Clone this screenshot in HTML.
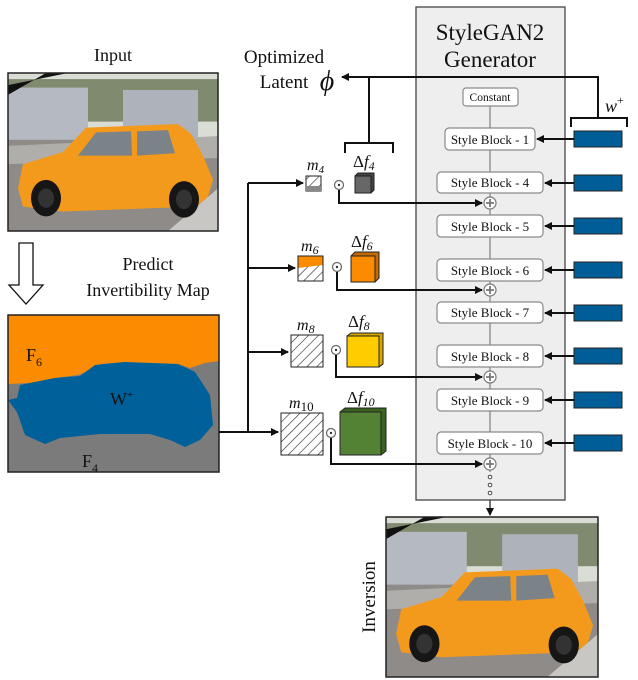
<!DOCTYPE html>
<html><head><meta charset="utf-8"><style>
html,body{margin:0;padding:0;background:#fff;}
svg{display:block;}
text{font-family:"Liberation Serif",serif;fill:#111;}
.blk{fill:#fff;stroke:#8a8a8a;stroke-width:1.2;}
.bt{font-size:13px;text-anchor:middle;}
.ln{stroke:#111;stroke-width:2;fill:none;}
.bl{fill:#005d97;stroke:#222;stroke-width:1;}
</style></head><body>
<svg width="638" height="680" viewBox="0 0 638 680" xmlns="http://www.w3.org/2000/svg">
<defs>
<marker id="ah" markerWidth="8" markerHeight="8" refX="7" refY="4" orient="auto" markerUnits="userSpaceOnUse"><path d="M0,0 L8,4 L0,8 z" fill="#111"/></marker>
<pattern id="hatch" width="7" height="7" patternUnits="userSpaceOnUse" patternTransform="rotate(45)"><rect width="7" height="7" fill="#fff"/><line x1="0" y1="0" x2="0" y2="7" stroke="#222" stroke-width="1.2"/></pattern>
<g id="car">
<rect x="0" y="0" width="210" height="130" fill="#d9ddd6"/>
<rect x="0" y="5" width="210" height="35" fill="#7f8a6e"/>
<rect x="0" y="12" width="80" height="45" fill="#b5b9c2"/>
<rect x="115" y="14" width="75" height="40" fill="#aeb2bb"/>
<rect x="0" y="55" width="210" height="75" fill="#8f8b88"/>
<path d="M0,60 L210,52 L210,70 L0,75z" fill="#b0aeab"/>
<path d="M160,130 L210,95 L210,130z" fill="#c9c7c4"/>
<path d="M10,95 L15,75 L55,65 L78,45 L170,42 L183,50 L195,68 L205,88 L200,102 L188,110 L55,114 L15,110z" fill="#f39a1c"/>
<path d="M70,68 L88,49 L123,48 L124,68z" fill="#7b8288"/>
<path d="M129,48 L160,47 L167,66 L129,68z" fill="#7b8288"/>
<circle cx="38" cy="103" r="15" fill="#161616"/><circle cx="176" cy="104" r="15" fill="#161616"/>
<circle cx="38" cy="103" r="8" fill="#333"/><circle cx="176" cy="104" r="8" fill="#333"/>
<path d="M0,18 L0,10 L60,0 L38,0z" fill="#111"/>
</g>
</defs>

<!-- Input image -->
<text x="113" y="61" font-size="18" text-anchor="middle">Input</text>
<g transform="translate(8,73) scale(1,1.215)"><use href="#car"/></g>
<rect x="8" y="73" width="210" height="158" fill="none" stroke="#222" stroke-width="1.5"/>

<!-- hollow down arrow -->
<path d="M19,243 L33,243 L33,285 L43,285 L26,304 L9,285 L19,285z" fill="#fff" stroke="#111" stroke-width="1.3"/>
<text x="148" y="270" font-size="18" text-anchor="middle">Predict</text>
<text x="148" y="296" font-size="18" text-anchor="middle">Invertibility Map</text>

<!-- map -->
<rect x="8" y="315" width="211" height="157" fill="#7b7b7c"/>
<path d="M8,315 L219,315 L219,361 L205,363 L190,368 L178,364 L125,362 L100,364 L90,370 L78,375 L55,378 L30,383 L8,384z" fill="#fb8b00"/>
<path d="M30,383 L55,378 L80,376 L95,365 L125,362 L178,364 L195,372 L210,395 L213,425 L200,440 L185,447 L170,440 L150,434 L100,434 L60,438 L45,444 L25,435 L17,412 L8,400 L17,398 L20,385z" fill="#00609a"/>
<rect x="8" y="315" width="211" height="157" fill="none" stroke="#222" stroke-width="1.5"/>
<text x="26" y="361" font-size="18">F<tspan font-size="12" dy="5">6</tspan></text>
<text x="110" y="405" font-size="18">W<tspan font-size="11" dy="-7">+</tspan></text>
<text x="82" y="467" font-size="18">F<tspan font-size="12" dy="5">4</tspan></text>

<!-- branching lines -->
<path class="ln" d="M219,432 L248,432"/>
<path class="ln" d="M248,183 L248,432"/>
<path class="ln" d="M248,183 L303,183" marker-end="url(#ah)"/>
<path class="ln" d="M248,268 L295,268" marker-end="url(#ah)"/>
<path class="ln" d="M248,352 L288,352" marker-end="url(#ah)"/>
<path class="ln" d="M248,432 L278,432" marker-end="url(#ah)"/>

<!-- masks -->
<rect x="306" y="176" width="15" height="15" fill="url(#hatch)" stroke="#222"/>
<rect x="306" y="186" width="15" height="5" fill="#888"/>
<rect x="298" y="256" width="25" height="25" fill="url(#hatch)" stroke="#222"/>
<path d="M298,256 L323,256 L323,265 L298,268z" fill="#fb8b00"/>
<rect x="298" y="256" width="25" height="25" fill="none" stroke="#222"/>
<rect x="291" y="335" width="32" height="32" fill="url(#hatch)" stroke="#222"/>
<rect x="281" y="413" width="42" height="42" fill="url(#hatch)" stroke="#222"/>

<g font-style="italic" font-size="16">
<text x="307" y="170">m<tspan font-size="11" dy="3">4</tspan></text>
<text x="301" y="251">m<tspan font-size="12" dy="3">6</tspan></text>
<text x="297" y="330">m<tspan font-size="12" dy="3">8</tspan></text>
<text x="289" y="408">m<tspan font-size="13" dy="3" font-style="normal">10</tspan></text>
</g>

<!-- odots -->
<g fill="#fff" stroke="#666" stroke-width="1.2">
<circle cx="339" cy="185" r="4.5"/><circle cx="337" cy="267" r="4.5"/><circle cx="336" cy="350" r="4.5"/><circle cx="331" cy="433" r="4.5"/>
</g>
<g fill="#333"><circle cx="339" cy="185" r="1.2"/><circle cx="337" cy="267" r="1.2"/><circle cx="336" cy="350" r="1.2"/><circle cx="331" cy="433" r="1.2"/></g>

<!-- cubes -->
<g stroke="#222" stroke-width="1">
<path d="M355,176 L358,173 L374,173 L374,190 L371,193 L355,193z" fill="#444"/><rect x="355" y="176" width="16" height="17" fill="#676767"/>
<path d="M351,256 L355,252 L379,252 L379,278 L375,282 L351,282z" fill="#c56a00"/><rect x="351" y="256" width="24" height="26" fill="#fb8b00"/>
<path d="M347,336 L351,333 L383,333 L383,364 L379,367 L347,367z" fill="#d4a800"/><rect x="347" y="336" width="32" height="31" fill="#ffcc00"/>
<path d="M340,412 L345,408 L386,408 L386,451 L381,455 L340,455z" fill="#3b6320"/><rect x="340" y="412" width="41" height="43" fill="#548235"/>
</g>
<g font-size="17">
<text x="353" y="167">Δ<tspan font-style="italic">f</tspan><tspan font-size="12" font-style="italic" dy="3">4</tspan></text>
<text x="351" y="247">Δ<tspan font-style="italic">f</tspan><tspan font-size="12" font-style="italic" dy="3">6</tspan></text>
<text x="348" y="327">Δ<tspan font-style="italic">f</tspan><tspan font-size="12" font-style="italic" dy="3">8</tspan></text>
<text x="347" y="403">Δ<tspan font-style="italic">f</tspan><tspan font-size="12" font-style="italic" dy="3">10</tspan></text>
</g>

<!-- generator panel -->
<rect x="416" y="7" width="149" height="493" fill="#eeeeee" stroke="#444" stroke-width="1.3"/>
<text x="490" y="40" font-size="23" text-anchor="middle">StyleGAN2</text>
<text x="490" y="67" font-size="23" text-anchor="middle">Generator</text>
<line x1="490" y1="106" x2="490" y2="472" stroke="#888" stroke-width="1.3"/>

<!-- odot to plus lines -->
<path class="ln" d="M339,190 L339,203 L482,203" marker-end="url(#ah)"/>
<path class="ln" d="M337,272 L337,290 L482,290" marker-end="url(#ah)"/>
<path class="ln" d="M336,355 L336,377 L482,377" marker-end="url(#ah)"/>
<path class="ln" d="M331,438 L331,464 L482,464" marker-end="url(#ah)"/>

<rect class="blk" x="463" y="88" width="55" height="18" rx="3"/>
<text class="bt" x="490" y="101" font-size="11" style="font-size:11.5px">Constant</text>
<g>
<rect class="blk" x="445" y="128" width="90" height="22" rx="4"/><text class="bt" x="490" y="144">Style Block - 1</text>
<rect class="blk" x="437" y="172" width="106" height="21" rx="4"/><text class="bt" x="490" y="187">Style Block - 4</text>
<rect class="blk" x="437" y="215" width="106" height="22" rx="4"/><text class="bt" x="490" y="231">Style Block - 5</text>
<rect class="blk" x="437" y="259" width="106" height="22" rx="4"/><text class="bt" x="490" y="275">Style Block - 6</text>
<rect class="blk" x="437" y="302" width="106" height="21" rx="4"/><text class="bt" x="490" y="317">Style Block - 7</text>
<rect class="blk" x="437" y="345" width="106" height="22" rx="4"/><text class="bt" x="490" y="361">Style Block - 8</text>
<rect class="blk" x="437" y="389" width="106" height="22" rx="4"/><text class="bt" x="490" y="405">Style Block - 9</text>
<rect class="blk" x="437" y="432" width="106" height="22" rx="4"/><text class="bt" x="490" y="448">Style Block - 10</text>
</g>
<!-- plus circles -->
<g fill="#fff" stroke="#777" stroke-width="1.2">
<circle cx="490" cy="203" r="6"/><circle cx="490" cy="290" r="6"/><circle cx="490" cy="377" r="6"/><circle cx="490" cy="464" r="6"/>
</g>
<g stroke="#777" stroke-width="1.8">
<path d="M486,203 h8 M490,199 v8"/><path d="M486,290 h8 M490,286 v8"/><path d="M486,377 h8 M490,373 v8"/><path d="M486,464 h8 M490,460 v8"/>
</g>
<g fill="#fff" stroke="#444" stroke-width="1">
<circle cx="490" cy="477" r="1.8"/><circle cx="490" cy="485" r="1.8"/><circle cx="490" cy="493" r="1.8"/>
</g>
<path d="M490,500 L490,515" stroke="#444" stroke-width="1.5" marker-end="url(#ah)"/>

<!-- w+ blocks -->
<g>
<rect class="bl" x="574" y="131" width="48" height="16"/>
<rect class="bl" x="574" y="175" width="48" height="16"/>
<rect class="bl" x="574" y="218" width="48" height="16"/>
<rect class="bl" x="574" y="262" width="48" height="16"/>
<rect class="bl" x="574" y="305" width="48" height="16"/>
<rect class="bl" x="574" y="348" width="48" height="16"/>
<rect class="bl" x="574" y="392" width="48" height="16"/>
<rect class="bl" x="574" y="435" width="48" height="16"/>
</g>
<g class="ln">
<path d="M574,139 L537,139" marker-end="url(#ah)"/>
<path d="M574,183 L545,183" marker-end="url(#ah)"/>
<path d="M574,226 L545,226" marker-end="url(#ah)"/>
<path d="M574,270 L545,270" marker-end="url(#ah)"/>
<path d="M574,313 L545,313" marker-end="url(#ah)"/>
<path d="M574,356 L545,356" marker-end="url(#ah)"/>
<path d="M574,400 L545,400" marker-end="url(#ah)"/>
<path d="M574,443 L545,443" marker-end="url(#ah)"/>
</g>
<!-- brackets & latent -->
<path class="ln" d="M571,127 L571,118 L627,118 L627,127"/>
<path class="ln" d="M598,118 L598,77 L342,77" marker-end="url(#ah)"/>
<path class="ln" d="M345,153 L345,143 L393,143 L393,153"/>
<path class="ln" d="M369,143 L369,77"/>
<text x="605" y="112" font-size="18" font-style="italic">w<tspan font-size="12" dy="-8" font-style="normal">+</tspan></text>
<text x="284" y="63" font-size="19" text-anchor="middle">Optimized</text>
<text x="284" y="88" font-size="19" text-anchor="middle">Latent</text>
<text x="327" y="90" font-size="28" font-style="italic" text-anchor="middle">ϕ</text>

<!-- inversion image -->
<g transform="translate(386,517) scale(1.01,1.23)"><use href="#car"/></g>
<rect x="386" y="517" width="212" height="160" fill="none" stroke="#222" stroke-width="1.5"/>
<text x="375" y="597" font-size="19" text-anchor="middle" transform="rotate(-90 375 597)">Inversion</text>
</svg>
</body></html>
